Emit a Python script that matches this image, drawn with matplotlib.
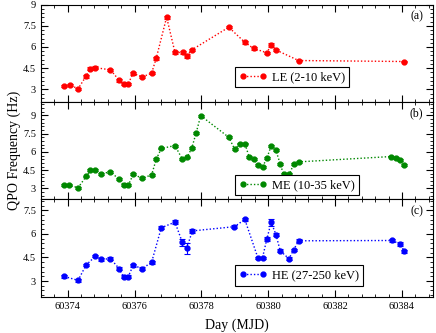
import matplotlib
matplotlib.use("Agg")
import matplotlib.pyplot as plt
from matplotlib.ticker import MultipleLocator, AutoMinorLocator

plt.rcParams['font.family'] = ['Liberation Serif', 'DejaVu Serif']
plt.rcParams['mathtext.fontset'] = 'stix'

# ---- Data ----
le_day = [60373.90, 60374.06, 60374.31, 60374.55, 60374.68, 60374.81, 60375.28, 60375.54,
          60375.67, 60375.81, 60375.96, 60376.23, 60376.51, 60376.65, 60376.96, 60377.21,
          60377.45, 60377.56, 60377.71, 60378.82, 60379.30, 60379.56, 60379.96, 60380.09,
          60380.23, 60380.91, 60384.07]
le_freq = [3.21, 3.31, 3.04, 3.93, 4.45, 4.54, 4.38, 3.64, 3.36, 3.40, 4.14, 3.88, 4.14,
           5.21, 8.11, 5.61, 5.61, 5.33, 5.79, 7.40, 6.33, 5.90, 5.59, 6.16, 5.79, 5.04, 4.97]
le_err = [0.08, 0.08, 0.08, 0.10, 0.10, 0.08, 0.08, 0.10, 0.08, 0.08, 0.10, 0.08, 0.08,
          0.10, 0.10, 0.12, 0.10, 0.14, 0.10, 0.08, 0.12, 0.08, 0.08, 0.14, 0.10, 0.06, 0.06]

me_day = [60373.90, 60374.05, 60374.31, 60374.55, 60374.68, 60374.82, 60375.00, 60375.28,
          60375.54, 60375.67, 60375.81, 60375.96, 60376.23, 60376.51, 60376.65, 60376.80,
          60377.21, 60377.43, 60377.57, 60377.71, 60377.84, 60377.98, 60378.82, 60379.00,
          60379.16, 60379.30, 60379.43, 60379.56, 60379.69, 60379.83, 60379.96, 60380.09,
          60380.23, 60380.36, 60380.46, 60380.63, 60380.76, 60380.91, 60383.68, 60383.83,
          60383.95, 60384.07]
me_freq = [3.27, 3.27, 3.05, 3.98, 4.50, 4.50, 4.20, 4.36, 3.74, 3.27, 3.25, 4.15, 3.84,
           4.11, 5.40, 6.28, 6.52, 5.40, 5.54, 6.30, 7.53, 8.98, 7.20, 6.20, 6.69, 6.69,
           5.59, 5.43, 4.89, 4.77, 5.48, 6.52, 6.14, 5.00, 4.15, 4.15, 4.97, 5.18, 5.62,
           5.51, 5.30, 4.93]
me_err = [0.08] * 42

he_day = [60373.90, 60374.31, 60374.55, 60374.83, 60375.00, 60375.28, 60375.54, 60375.67,
          60375.81, 60375.96, 60376.23, 60376.51, 60376.80, 60377.21, 60377.43, 60377.56,
          60377.73, 60378.99, 60379.30, 60379.69, 60379.83, 60379.96, 60380.09, 60380.23,
          60380.36, 60380.62, 60380.76, 60380.91, 60383.70, 60383.95, 60384.07]
he_freq = [3.29, 3.04, 4.02, 4.58, 4.38, 4.42, 3.79, 3.27, 3.27, 4.00, 3.79, 4.19, 6.39,
           6.75, 5.46, 5.08, 6.19, 6.46, 6.92, 4.48, 4.48, 5.69, 6.73, 5.96, 4.92, 4.42,
           4.98, 5.56, 5.58, 5.36, 4.88]
he_err = [0.08, 0.08, 0.08, 0.08, 0.08, 0.08, 0.10, 0.10, 0.10, 0.08, 0.08, 0.08, 0.10,
          0.15, 0.20, 0.35, 0.15, 0.10, 0.10, 0.08, 0.08, 0.12, 0.20, 0.12, 0.10, 0.08,
          0.08, 0.10, 0.10, 0.10, 0.10]

labels = ['LE (2-10 keV)', 'ME (10-35 keV)', 'HE (27-250 keV)']
panel_tags = ['(a)', '(b)', '(c)']
colors = ['#ff0000', '#008800', '#0000ff']
ylims = [(2.1, 9.0), (2.1, 10.1), (2.0, 8.2)]
yticks = [[3, 4.5, 6, 7.5, 9], [3, 4.5, 6, 7.5, 9], [3, 4.5, 6, 7.5]]
xticks = [60374, 60376, 60378, 60380, 60382, 60384]
legend_y = [0.15, 0.04, 0.11]

days = [le_day, me_day, he_day]
freqs = [le_freq, me_freq, he_freq]
errs = [le_err, me_err, he_err]

fig = plt.figure(figsize=(4.36, 3.33), dpi=100)
gs = fig.add_gridspec(3, 1, left=0.094, right=0.993, top=0.986, bottom=0.109, hspace=0)
axes = [fig.add_subplot(gs[i]) for i in range(3)]

for i, ax in enumerate(axes):
    c = colors[i]
    ax.plot(days[i], freqs[i], linestyle=(0, (1, 1.5)), color=c, lw=1.0, zorder=1)
    ax.errorbar(days[i], freqs[i], yerr=errs[i], fmt='o', color=c, ms=3.5,
                elinewidth=0.8, capsize=2, capthick=0.8, zorder=2)
    # legend proxy
    ax.plot([], [], linestyle=(0, (1, 1.5)), color=c, marker='o', ms=3.5, lw=1.0,
            label=labels[i])
    handles, labs = ax.get_legend_handles_labels()
    leg = ax.legend(handles, labs, loc='lower left', bbox_to_anchor=(0.495, legend_y[i]),
                    fontsize=9, frameon=True, fancybox=False, edgecolor='black',
                    framealpha=1, numpoints=2, handlelength=2.2, handletextpad=0.4,
                    borderpad=0.35, borderaxespad=0)
    leg.get_frame().set_linewidth(0.8)
    ax.set_xlim(60373.2, 60384.93)
    ax.set_ylim(*ylims[i])
    ax.set_yticks(yticks[i])
    ax.set_yticklabels([('%g' % v) for v in yticks[i]])
    ax.yaxis.set_minor_locator(AutoMinorLocator(5))
    ax.set_xticks(xticks)
    ax.xaxis.set_minor_locator(MultipleLocator(0.4))
    ax.tick_params(which='both', direction='in', top=True, right=True, labelsize=7.5)
    ax.tick_params(which='major', length=5, width=0.8)
    ax.tick_params(which='minor', length=2.5, width=0.6)
    for s in ax.spines.values():
        s.set_linewidth(0.8)
    ax.text(0.975, 0.88, panel_tags[i], transform=ax.transAxes, ha='right', va='center',
            fontsize=8.5)
    if i < 2:
        ax.tick_params(labelbottom=False)

axes[2].set_xticklabels([str(t) for t in xticks])
axes[2].set_xlabel('Day (MJD)', fontsize=10, labelpad=6)
fig.text(0.018, 0.547, 'QPO Frequency (Hz)', rotation=90, ha='left', va='center', fontsize=10)

fig.savefig('out.png', dpi=100)
